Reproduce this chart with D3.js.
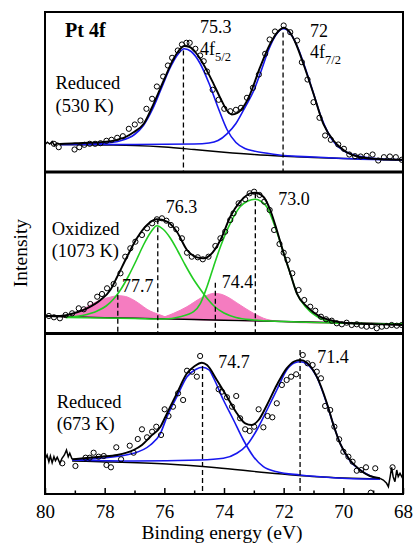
<!DOCTYPE html>
<html>
<head>
<meta charset="utf-8">
<script src="https://cdn.jsdelivr.net/npm/d3@7"></script>
<style>
  body { margin: 0; background: #fff; }
  svg { display: block; font-family: 'Liberation Serif', 'Times New Roman', serif; }
</style>
</head>
<body>
<svg width="413" height="543"></svg>
<script>
  // Binding energy ticks (eV)
  var energyTicks = [80, 78, 76, 74, 72, 70, 68];
  var energyMinorTicks = [79, 77, 75, 73, 71, 69];

  // ---- Reduced (530 K) ----
  var reduced530Points = [[79.70,27.7],[79.54,24.3],[79.01,22],[78.85,24.3],[78.68,26.7],[78.50,27.7],[78.32,27.7],[78.14,28.3],[77.94,30.7],[77.77,31.7],[77.58,33.7],[77.39,35.3],[77.19,42.7],[76.99,47],[76.80,51],[76.60,62.7],[76.41,72.7],[76.25,85],[76.04,95],[75.88,106],[75.74,113.7],[75.55,121],[75.41,127],[75.26,128.7],[75.15,128.7],[74.96,122.7],[74.80,116],[74.68,110.3],[74.57,100],[74.38,81.7],[74.18,71.7],[73.99,62.7],[73.79,60.3],[73.60,61.7],[73.43,63.7],[73.23,73.7],[73.03,83.7],[72.83,97],[72.62,117.7],[72.47,132],[72.29,140],[72.00,146],[71.78,139.3],[71.55,131],[71.39,109.3],[71.20,92],[71.00,69.3],[70.80,53.7],[70.61,36],[70.42,31.7],[70.17,27],[69.98,22.7],[69.80,17],[69.61,15.3],[69.42,15],[69.22,15.7],[69.02,17],[68.83,11],[68.64,14.3],[68.44,15],[68.24,14.3],[68.04,11.7]];
  var reduced530Raw = [[80,27],[79.92,29.3],[79.84,27.5],[79.76,30],[79.68,26],[79.6,28.3],[79.5,27.5]];
  var reduced530Fit = [[79.5,27.5],[79,28.3],[78.5,28.8],[78.14,29.3],[77.58,31.7],[77.3,34.5],[77.03,39.3],[76.69,47.7],[76.36,67.7],[76.02,91],[75.69,112.7],[75.5,121.5],[75.33,125.5],[75.15,124.5],[74.95,119],[74.8,112.7],[74.35,87.7],[74.1,72],[73.9,61],[73.74,57],[73.55,58.5],[73.3,67],[73.12,77.7],[72.79,104.3],[72.45,127.7],[72.2,139.5],[72,143.7],[71.8,139.5],[71.6,128.5],[71.34,107.7],[71,77.7],[70.67,47.7],[70.33,31],[70.1,24],[69.89,19.3],[69.44,14.3],[68.77,12.3],[68.01,11.7]];
  var reduced530Pt5 = [[79.5,27],[79,27.3],[78,28.3],[77.5,30.5],[77,37],[76.7,46],[76.4,62],[76.1,83],[75.8,104],[75.55,117],[75.33,122.7],[75.1,120],[74.8,108],[74.5,88],[74.2,64],[73.9,42],[73.6,29],[73.3,23],[73,20.5],[72.5,18],[72,16],[71,14.5],[70,13],[69,12],[68,11.7]];
  var reduced530Pt7 = [[79.5,27],[77,27],[75,27.5],[74.5,28.5],[74.2,31],[73.9,37.7],[73.6,48],[73.3,64],[73,81],[72.75,101],[72.5,122],[72.25,137],[72,142.7],[71.75,137],[71.5,122],[71.25,101],[71,78],[70.75,55],[70.5,38],[70.25,27],[70,21],[69.5,15.5],[69,13.2],[68.5,12.2],[68,11.7]];
  var reduced530Background = [[79.5,27],[78,26.5],[77,26],[76,24.5],[75,22],[74,19.3],[73,17],[72,15.3],[71,14],[70,13],[69,12.2],[68,11.7]];
  var reduced530PeakEnergies = [75.36, 72.02];
  var reduced530PeakTops = [121, 139];
  var reduced530PeakLabels = ['75.3', '72'];

  // ---- Oxidized (1073 K) ----
  var oxidizedPoints = [[79.87,17],[79.70,15.7],[79.50,14.7],[79.31,18],[79.09,19.7],[78.87,24.7],[78.70,23.7],[78.48,29],[78.25,36.3],[78.09,39],[77.92,44.7],[77.70,49],[77.47,59.7],[77.31,76.3],[77.14,84.7],[76.97,91.3],[76.75,98],[76.58,104.7],[76.41,109.7],[76.25,113.7],[76.08,114.7],[75.93,112.3],[75.78,108],[75.60,103.7],[75.41,94.7],[75.24,80.3],[75.08,76.3],[74.88,75.7],[74.71,73.7],[74.52,76.3],[74.29,87],[74.12,94.7],[73.96,101.3],[73.79,113],[73.68,119.7],[73.51,129.7],[73.29,133.7],[73.14,139.7],[72.99,141.3],[72.81,138],[72.65,131.3],[72.47,123],[72.32,103],[72.14,89],[72.00,80.3],[71.87,73],[71.71,59.7],[71.50,43],[71.31,33],[71.11,26.3],[70.94,22.3],[70.75,16.3],[70.58,13.7],[70.39,12.3],[70.22,9.7],[70.05,8.7],[69.89,10.3],[69.72,8],[69.55,8.7],[69.39,7.3],[69.22,6.3],[69.05,7],[68.88,4.7],[68.71,6.3],[68.55,7],[68.38,8],[68.21,7.3],[68.04,8]];
  var oxidizedFit = [[80,17],[79.5,17],[79.26,18],[78.9,21],[78.59,24.7],[78.14,33],[77.81,43],[77.58,56.3],[77.25,76.3],[76.92,94.7],[76.58,108],[76.25,113.7],[75.91,111.3],[75.58,101.3],[75.24,83],[74.91,75.7],[74.68,74.7],[74.46,78],[74.12,93],[73.79,116.3],[73.46,131.3],[73.12,139.7],[72.96,140.3],[72.68,136.3],[72.45,123],[72.23,103],[72.0,79.7],[71.78,59.7],[71.56,39.7],[71.22,26.3],[70.78,16.3],[70.33,12],[69.78,9.7],[68.5,8.5],[68.01,8]];
  var oxidizedPt5 = [[79.3,15.5],[78.75,17.5],[78.25,22],[77.95,27],[77.7,34],[77.45,44],[77.2,57],[76.95,72],[76.7,88],[76.45,101],[76.25,107.3],[76.05,104],[75.8,95],[75.55,82],[75.3,68],[75.05,55],[74.8,44],[74.55,34],[74.3,26],[74.0,20],[73.6,15.5],[73.0,13],[72,11.5],[71,10.5],[70,9.8],[68,9]];
  var oxidizedPt7 = [[79.3,15.5],[77,14.5],[76,14],[75.47,16.3],[75.02,21.3],[74.79,29.7],[74.57,46.3],[74.35,66.3],[74.12,86.3],[73.79,109.7],[73.46,126.3],[73.2,132],[72.96,133.7],[72.75,131.5],[72.57,126.3],[72.23,101.3],[72,79.7],[71.78,59.7],[71.56,39.7],[71.22,24.7],[70.78,14.7],[70.33,10.7],[69.5,9.5],[68,9]];
  var oxidizedPtO5 = [[79.4,16.3],[79,18.5],[78.59,26.3],[78.14,33],[77.8,36],[77.53,37.3],[77.3,36.5],[77.03,33],[76.8,28.5],[76.58,23.7],[76.13,18],[75.9,15.5],[75.5,14],[74,13],[72,11.5],[68,9]];
  var oxidizedPtO7 = [[79.4,16.3],[77,14.5],[76.2,15],[75.69,19.7],[75.24,26.3],[74.79,34.7],[74.5,38.5],[74.35,39.7],[74.1,38.8],[73.9,36.3],[73.46,28],[73.01,19.7],[72.57,13.7],[72,11.3],[71.45,10.3],[70,9.6],[68,9]];
  var oxidizedBackground = [[80,16.7],[78,15.4],[76,14.1],[74,12.8],[72,11.5],[70,10.2],[68,9]];
  var oxidizedPeakEnergies = [77.56, 76.22, 74.29, 72.95];
  var oxidizedPeakTops = [46.3, 113.7, 50.3, 139.7];
  var oxidizedPeakLabels = ['77.7', '76.3', '74.4', '73.0'];

  // ---- Reduced (673 K) ----
  var reduced673Points = [[79.42,30.7],[78.98,28],[78.64,36.3],[78.50,36.3],[78.37,41.3],[78.20,37.3],[78.03,38],[77.94,29],[77.79,26.7],[77.61,46.7],[77.45,34.7],[77.16,48.3],[77.03,41.3],[76.89,55],[76.75,64.7],[76.58,56.7],[76.41,62.3],[76.27,67.3],[76.11,59],[75.99,84.7],[75.86,78],[75.71,87.3],[75.54,100.7],[75.37,94],[75.24,123.3],[75.07,122.3],[74.91,117.3],[74.80,138],[74.18,104.7],[74.07,102.3],[73.90,96.7],[73.73,87.3],[73.59,98],[73.46,75.7],[73.29,64.7],[73.14,63],[72.99,67.3],[72.84,84.7],[72.68,66.7],[72.54,78],[72.38,76.7],[72.23,90.7],[72.06,109],[71.90,114],[71.75,117.3],[71.58,119.7],[71.36,139],[71.20,130.7],[71.03,129],[70.89,122.3],[70.75,115.7],[70.61,88],[70.44,84],[70.30,67.3],[70.14,54.7],[70.00,42.3],[69.83,37.3],[69.69,32.3],[69.55,23.3],[69.40,24],[69.24,26.7],[69.08,1.3],[68.93,25.7],[68.35,26.7]];
  var reduced673RawLeft = [[79.98,35.7],[79.93,39],[79.87,32.3],[79.82,38],[79.76,31.3],[79.70,37.3],[79.65,33.3],[79.59,36.7],[79.50,30.7],[79.43,35.7],[79.35,39],[79.28,44],[79.22,37.3],[79.17,40.7],[79.09,34.7]];
  var reduced673RawRight = [[68.77,15.7],[68.66,14],[68.55,10.7],[68.49,7.3],[68.44,15.7],[68.38,26.7],[68.33,17.3],[68.27,12.3],[68.21,24],[68.16,17.3],[68.10,20.7],[68.01,15.7]];
  var reduced673Fit = [[79.09,34.7],[78.7,35.7],[78.14,37.3],[77.58,39],[77.03,44],[76.75,49],[76.47,57.3],[76.13,67.3],[75.91,80.7],[75.58,100.7],[75.24,120.7],[74.98,128],[74.74,131.3],[74.57,129],[74.24,114],[73.9,97.3],[73.57,80.7],[73.29,70.7],[73.07,69],[72.84,74],[72.56,89],[72.23,109],[71.9,125.7],[71.65,132.5],[71.45,134],[71.22,131.3],[70.89,117.3],[70.55,90.7],[70.33,69],[70.11,50.7],[69.78,34],[69.44,24],[69.11,18],[68.77,15.7]];
  var reduced673Pt5 = [[79.09,34],[78.14,35.7],[77.03,40.7],[76.47,49],[76.13,60.7],[75.91,77.3],[75.58,97.3],[75.24,117.3],[74.95,124.5],[74.72,126.7],[74.5,124],[74.35,116],[74.02,94],[73.68,74],[73.35,54],[73.01,37.3],[72.68,27.3],[72.23,22.3],[71.45,19],[70.33,16.3],[68.77,14.7]];
  var reduced673Pt7 = [[79.09,34],[77.03,33],[74.8,34],[74.02,35.7],[73.57,40.7],[73.23,49],[72.9,64],[72.56,84],[72.23,104],[71.9,124],[71.65,131],[71.45,132.3],[71.22,130],[70.89,117],[70.55,90],[70.33,69],[70.11,50.7],[69.78,33.3],[69.44,24],[69.11,18.3],[68.77,15]];
  var reduced673Background = [[79.09,33],[78.14,32.3],[75.91,30],[74.24,26.3],[72.56,21.3],[70.89,17.3],[68.77,15]];
  var reduced673PeakEnergies = [74.72, 71.45];
  var reduced673PeakTops = [128, 144];
  var reduced673PeakLabels = ['74.7', '71.4'];

  var BLUE = '#1717ee', GREEN = '#22cc22', PINK = '#f57cc0';

  var svg = d3.select('svg');
  var x = d3.scaleLinear().domain([80, 68]).range([45, 403]);

  // layout of the three stacked panels
  var panels = [
    {
      top: 12, bottom: 171.5,
      points: reduced530Points, raw: [reduced530Raw], fit: reduced530Fit,
      components: [reduced530Pt5, reduced530Pt7], componentColor: BLUE,
      shaded: [], background: reduced530Background,
      peaks: reduced530PeakEnergies, peakTops: reduced530PeakTops, peakLabels: reduced530PeakLabels,
      peakLabelPos: [[200, 33], [310, 36.7]],
      sample: ['Reduced', '(530 K)'], samplePos: [55.5, 89.3]
    },
    {
      top: 172.5, bottom: 333,
      points: oxidizedPoints, raw: [], fit: oxidizedFit,
      components: [oxidizedPt5, oxidizedPt7], componentColor: GREEN,
      shaded: [oxidizedPtO5, oxidizedPtO7], background: oxidizedBackground,
      peaks: oxidizedPeakEnergies, peakTops: oxidizedPeakTops, peakLabels: oxidizedPeakLabels,
      peakLabelPos: [[122, 291.7], [165.7, 213.3], [221.7, 288.3], [278.3, 205]],
      sample: ['Oxidized', '(1073 K)'], samplePos: [51.7, 235]
    },
    {
      top: 334, bottom: 494,
      points: reduced673Points, raw: [reduced673RawLeft, reduced673RawRight], fit: reduced673Fit,
      components: [reduced673Pt5, reduced673Pt7], componentColor: BLUE,
      shaded: [], background: reduced673Background,
      peaks: reduced673PeakEnergies, peakTops: reduced673PeakTops, peakLabels: reduced673PeakLabels,
      peakLabelPos: [[218.3, 368.3], [317.3, 363.3]],
      sample: ['Reduced', '(673 K)'], samplePos: [56.7, 407.7]
    }
  ];

  panels.forEach(function (p, i) {
    var y = d3.scaleLinear().domain([0, 160]).range([p.bottom, p.bottom - 160]);
    var curve = d3.line()
      .x(function (d) { return x(d[0]); })
      .y(function (d) { return y(d[1]); })
      .curve(d3.curveMonotoneX);
    var jagged = d3.line()
      .x(function (d) { return x(d[0]); })
      .y(function (d) { return y(d[1]); });

    svg.append('clipPath').attr('id', 'clip' + i)
      .append('rect')
      .attr('x', x(80)).attr('y', p.top)
      .attr('width', x(68) - x(80)).attr('height', p.bottom - p.top);

    var g = svg.append('g').attr('clip-path', 'url(#clip' + i + ')');

    // shaded oxide components sit on the background
    var base = d3.scaleLinear()
      .domain(p.background.map(function (d) { return d[0]; }))
      .range(p.background.map(function (d) { return d[1]; }));
    var area = d3.area()
      .x(function (d) { return x(d[0]); })
      .y0(function (d) { return y(base(d[0])); })
      .y1(function (d) { return y(d[1]); })
      .curve(d3.curveMonotoneX);
    p.shaded.forEach(function (s) {
      g.append('path').datum(s)
        .attr('d', area)
        .attr('fill', PINK)
        .attr('stroke', PINK)
        .attr('stroke-width', 1);
    });

    g.append('path').datum(p.background)
      .attr('d', curve)
      .attr('fill', 'none')
      .attr('stroke', '#000')
      .attr('stroke-width', 1.4);

    p.components.forEach(function (c) {
      g.append('path').datum(c)
        .attr('d', curve)
        .attr('fill', 'none')
        .attr('stroke', p.componentColor)
        .attr('stroke-width', 1.6);
    });

    g.append('path').datum(p.fit)
      .attr('d', curve)
      .attr('fill', 'none')
      .attr('stroke', '#000')
      .attr('stroke-width', 1.9);

    p.raw.forEach(function (r) {
      g.append('path').datum(r)
        .attr('d', jagged)
        .attr('fill', 'none')
        .attr('stroke', '#000')
        .attr('stroke-width', 1.5);
    });

    // dashed peak markers
    g.selectAll('.peak')
      .data(p.peaks)
      .enter().append('line')
      .attr('x1', function (d) { return x(d); })
      .attr('x2', function (d) { return x(d); })
      .attr('y1', function (d, k) { return y(p.peakTops[k]); })
      .attr('y2', p.bottom)
      .attr('stroke', '#000')
      .attr('stroke-width', 1.3)
      .attr('stroke-dasharray', '5,3');

    g.selectAll('.dot')
      .data(p.points)
      .enter().append('circle')
      .attr('cx', function (d) { return x(d[0]); })
      .attr('cy', function (d) { return y(d[1]); })
      .attr('r', 2.6)
      .attr('fill', 'none')
      .attr('stroke', '#000')
      .attr('stroke-width', 1);

    svg.append('rect')
      .attr('x', x(80)).attr('y', p.top)
      .attr('width', x(68) - x(80)).attr('height', p.bottom - p.top)
      .attr('fill', 'none')
      .attr('stroke', '#000')
      .attr('stroke-width', 2);

    // peak energy labels
    p.peakLabels.forEach(function (t, k) {
      svg.append('text')
        .attr('x', p.peakLabelPos[k][0])
        .attr('y', p.peakLabelPos[k][1])
        .attr('font-size', 18)
        .text(t);
    });

    var sample = svg.append('text')
      .attr('x', p.samplePos[0])
      .attr('y', p.samplePos[1])
      .attr('font-size', 18.5);
    sample.append('tspan').attr('x', p.samplePos[0]).text(p.sample[0]);
    sample.append('tspan').attr('x', p.samplePos[0]).attr('dy', 22.4).text(p.sample[1]);
  });

  // spin-orbit labels in the top panel
  [['5/2', 200, 55], ['7/2', 310, 58.3]].forEach(function (s) {
    var t = svg.append('text')
      .attr('x', s[1]).attr('y', s[2])
      .attr('font-size', 18);
    t.append('tspan').text('4f');
    t.append('tspan').attr('font-size', 12.5).attr('dy', 6).text(s[0]);
  });

  svg.append('text')
    .attr('x', 65).attr('y', 36.5)
    .attr('font-size', 20)
    .attr('font-weight', 'bold')
    .text('Pt 4f');

  // bottom axis
  var bottom = panels[2].bottom;
  var axis = svg.append('g')
    .attr('transform', 'translate(0,' + bottom + ')')
    .call(d3.axisBottom(x).tickValues(energyTicks).tickSize(-6).tickPadding(11).tickFormat(d3.format('d')));
  axis.select('.domain').remove();
  axis.selectAll('line').attr('stroke-width', 1.5);
  axis.selectAll('text')
    .attr('font-family', "'Liberation Serif', 'Times New Roman', serif")
    .attr('font-size', 19)
    .attr('fill', '#000');
  var minor = svg.append('g')
    .attr('transform', 'translate(0,' + bottom + ')')
    .call(d3.axisBottom(x).tickValues(energyMinorTicks).tickSize(-3.5).tickFormat(''));
  minor.select('.domain').remove();
  minor.selectAll('line').attr('stroke-width', 1.5);

  svg.append('text')
    .attr('x', 222).attr('y', 539)
    .attr('text-anchor', 'middle')
    .attr('font-size', 19.5)
    .text('Binding energy (eV)');

  svg.append('text')
    .attr('transform', 'translate(27,253) rotate(-90)')
    .attr('text-anchor', 'middle')
    .attr('font-size', 19.5)
    .text('Intensity');
</script>
</body>
</html>
